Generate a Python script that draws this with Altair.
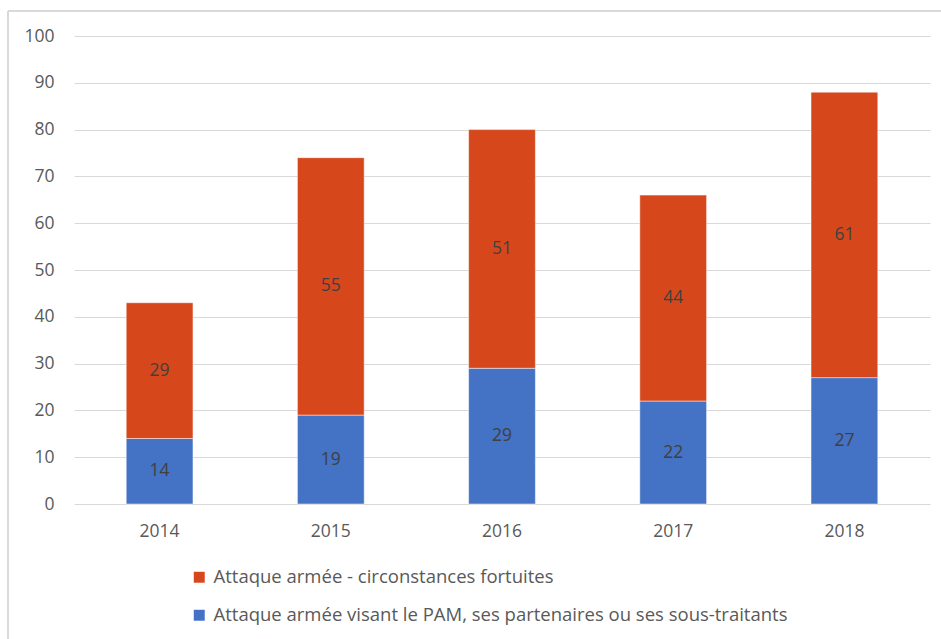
import altair as alt
import pandas as pd

years = ["2014", "2015", "2016", "2017", "2018"]
visant = [14, 19, 29, 22, 27]
fortuites = [29, 55, 51, 44, 61]
series_names = [
    "Attaque armée visant le PAM, ses partenaires ou ses sous-traitants",
    "Attaque armée - circonstances fortuites",
]
y_ticks = [0, 10, 20, 30, 40, 50, 60, 70, 80, 90, 100]

rows = []
for i, y in enumerate(years):
    rows.append({"year": y, "series": series_names[0], "value": visant[i], "order": 0})
    rows.append({"year": y, "series": series_names[1], "value": fortuites[i], "order": 1})
df = pd.DataFrame(rows)

FONT = "Open Sans"
GREY = "#595959"

color = alt.Color(
    "series:N",
    scale=alt.Scale(domain=[series_names[1], series_names[0]], range=["#D6481C", "#4472C4"]),
    legend=alt.Legend(
        title=None,
        orient="none",
        legendX=116,
        legendY=532,
        direction="vertical",
        symbolType="square",
        symbolSize=120,
        symbolStrokeWidth=0,
        labelFont=FONT,
        labelFontSize=18.5,
        labelColor=GREY,
        rowPadding=19,
        labelOffset=5,
        labelLimit=800,
    ),
)

base = alt.Chart(df).transform_stack(
    stack="value", groupby=["year"], as_=["y0", "y1"], sort=[alt.SortField("order", "ascending")]
).transform_calculate(mid="(datum.y0 + datum.y1) / 2")

x = alt.X(
    "year:N",
    sort=years,
    scale=alt.Scale(paddingInner=0.61, paddingOuter=0.305),
    axis=alt.Axis(
        title=None, labelAngle=0, ticks=False, domain=False, grid=False,
        labelFont=FONT, labelFontSize=17.5, labelColor=GREY, labelPadding=18,
    ),
)

bars = base.mark_bar(stroke="#ffffff", strokeWidth=0.8, strokeOpacity=0.6).encode(
    x=x,
    y=alt.Y(
        "y0:Q",
        scale=alt.Scale(domain=[0, 100]),
        axis=alt.Axis(
            title=None, values=y_ticks, ticks=False, domain=False,
            gridColor="#d9d9d9", gridWidth=1.2,
            labelFont=FONT, labelFontSize=17.5, labelColor=GREY, labelPadding=20,
        ),
    ),
    y2="y1:Q",
    color=color,
)

labels = base.mark_text(font=FONT, fontSize=17.5, color="#404040").encode(
    x=alt.X("year:N", sort=years),
    y=alt.Y("mid:Q"),
    text=alt.Text("value:Q"),
)

frame_top = alt.Chart(df).mark_rule(color="#d9d9d9", strokeWidth=1.5).encode(
    x=alt.value(-66), x2=alt.value(900), y=alt.value(-25)
)
frame_left = alt.Chart(df).mark_rule(color="#d9d9d9", strokeWidth=1.5).encode(
    x=alt.value(-66), y=alt.value(-25), y2=alt.value(620)
)

chart = alt.layer(frame_top, frame_left, bars, labels).properties(
    width=856,
    height=468,
    autosize=alt.AutoSizeParams(type="none"),
    padding={"left": 74, "top": 36, "right": 11, "bottom": 135},
).configure_view(stroke=None)

chart.save("out.html", embed_options={"renderer": "svg", "actions": False})
